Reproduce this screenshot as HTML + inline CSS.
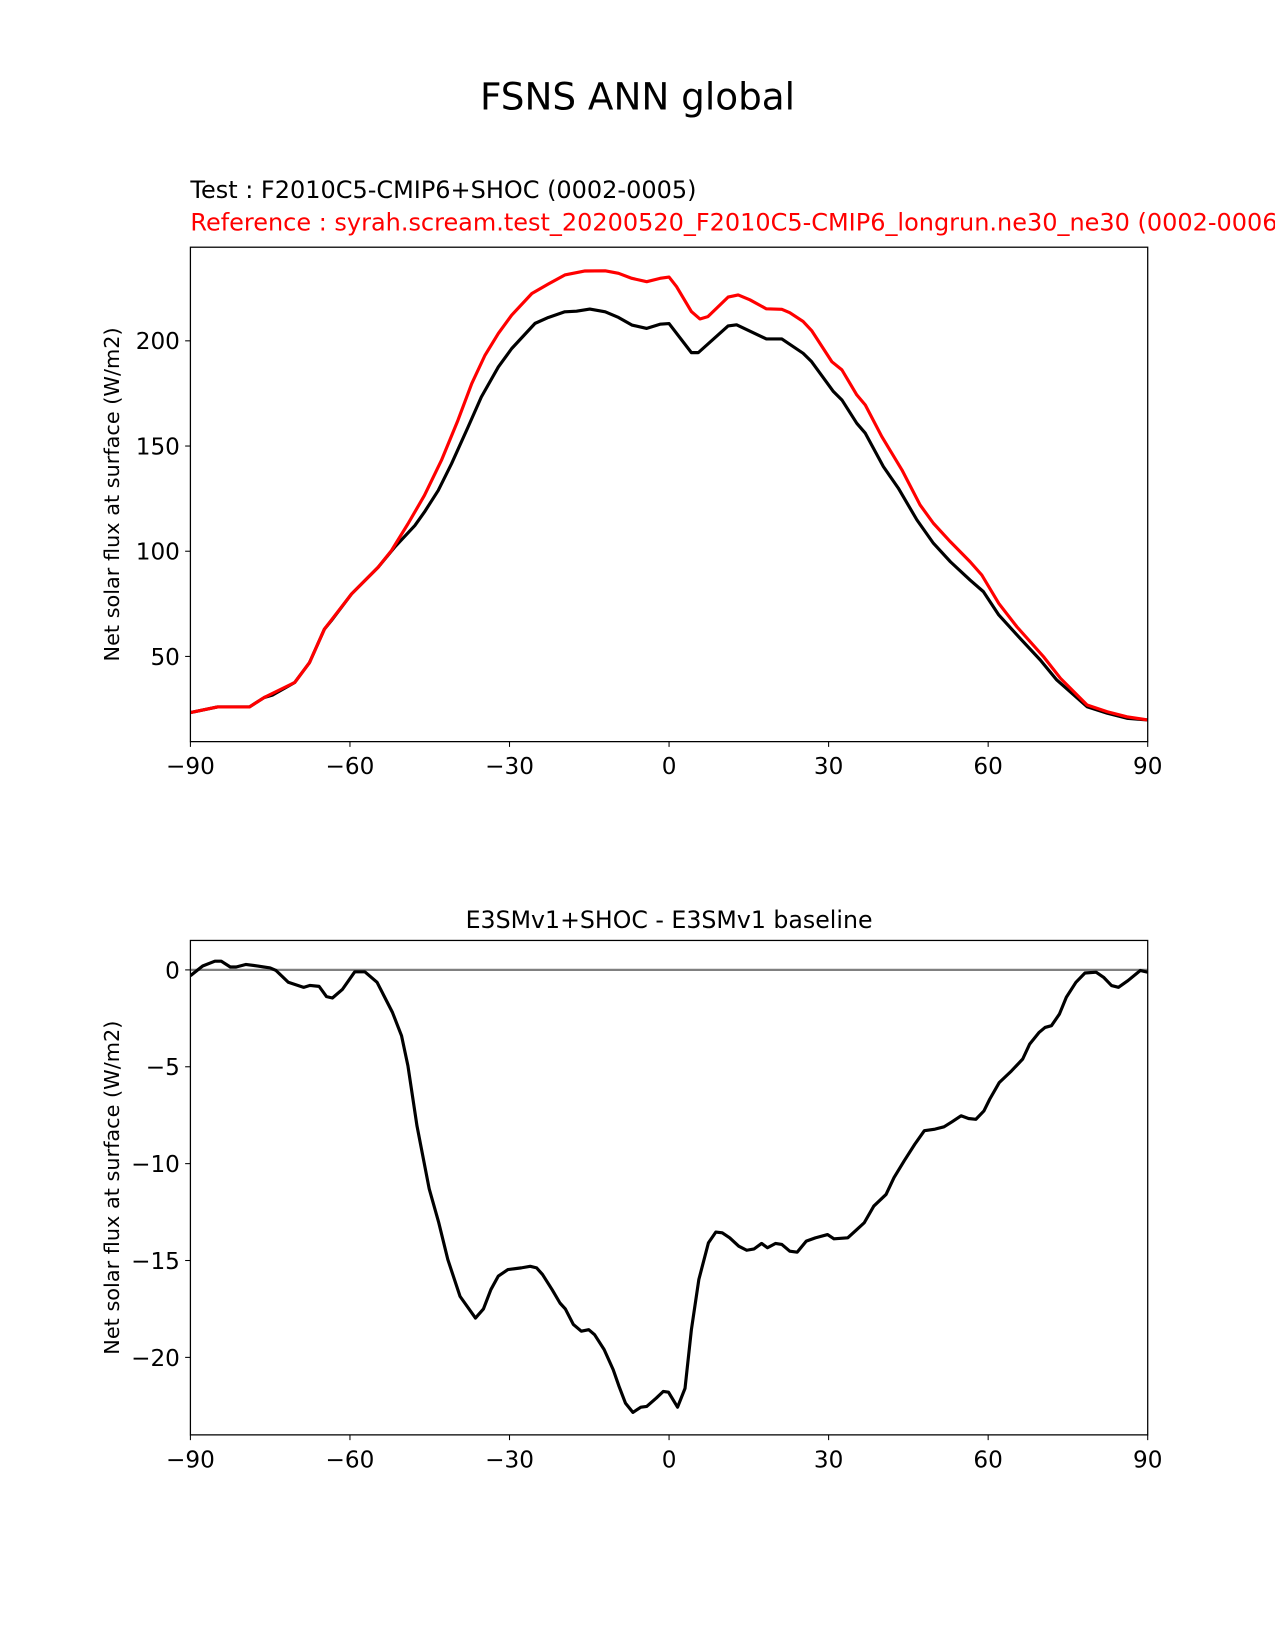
<!DOCTYPE html>
<html><head><meta charset="utf-8"><style>
html,body{margin:0;padding:0;background:#fff;}
svg{display:block;font-family:"DejaVu Sans","Liberation Sans",sans-serif;}
</style></head><body>
<svg id="fig" width="1275" height="1650" viewBox="0 0 1212 1568.5" preserveAspectRatio="none" xmlns="http://www.w3.org/2000/svg">
<rect width="1212" height="1568.5" fill="#fff"/>
<text x="606" y="104" font-size="35.5" text-anchor="middle">FSNS ANN global</text>
<text x="181" y="188" font-size="22.8">Test : F2010C5-CMIP6+SHOC (0002-0005)</text>
<text x="181" y="219" font-size="22.8" fill="#ff0000">Reference : syrah.scream.test_20200520_F2010C5-CMIP6_longrun.ne30_ne30 (0002-0006)</text>
<text x="636" y="882" font-size="22.5" text-anchor="middle">E3SMv1+SHOC - E3SMv1 baseline</text>
<g id="top"></g>
<g id="bot"></g>
</svg>
<script>
const testLat=[-90,-84.9,-78.9,-76.1,-74.5,-70.4,-67.6,-64.8,-63.5,-59.7,-54.7,-51.6,-47.8,-46,-43.4,-40.9,-37.8,-35.3,-32.1,-29.6,-25.2,-22.7,-19.6,-17.4,-14.9,-12,-9.5,-7,-4.2,-1.7,0,4.2,5.5,11.1,12.7,18.3,21.2,25.2,26.8,30.9,32.5,35.3,36.9,40.3,43.1,46.6,49.7,52.9,56.6,59.1,62,66,69.8,72.9,78.6,82.4,86.1,90];
const testVals=[23.3,26,26,30.5,31.7,37.6,47.1,63,67,79.7,92.4,101.9,112.2,118.6,128.9,141.6,159,173.3,187.6,196.3,208.3,211.1,213.8,214.1,215.1,213.8,211.1,207.5,205.9,207.9,208.2,194.4,194.4,207.1,207.6,200.9,200.9,194.1,190.1,175.9,171.9,160.8,156.1,140.2,130,114.9,103.8,95,86.3,80.8,69.7,58.6,48.3,38.8,26.1,23,20.6,19.8];
const refLat=[-90,-84.9,-78.9,-76.1,-70.4,-67.6,-64.8,-59.7,-54.7,-52.2,-49.1,-46,-42.8,-39.7,-37.1,-34.6,-32.1,-29.6,-25.8,-22.7,-19.6,-15.8,-12,-9.5,-7,-4.2,-1.7,0,1.4,4.2,5.8,7.3,11.1,13,15.2,18.3,21.2,22.7,25.2,26.8,30.6,32.5,35.3,36.9,40,43.8,47.2,49.7,52.9,56.6,58.8,62,65.4,70.4,73.6,78.6,82.4,86.1,90];
const refVals=[23.3,26,26,30.5,37.6,47.1,63,79.7,92.4,100.3,113,126.5,143.2,162.2,179.7,193.2,203.5,212.2,222.5,227,231.3,233.2,233.3,232.1,229.7,228.1,229.7,230.3,225.8,213.9,210.4,211.5,220.8,221.8,219.5,215.2,215,213.4,209.2,204.9,190.1,186.2,174.3,169.5,154.5,138.6,122,113.3,104.5,95,88.7,75.2,64.1,49.9,39.6,26.9,23.7,21.3,19.8];
const diffLat=[-90,-87.7,-85.4,-84.2,-82.5,-81.4,-79.6,-77.3,-75,-73.9,-71.6,-68.7,-67.5,-65.8,-64.4,-63.3,-61.4,-59.1,-57.2,-54.9,-52,-50.3,-49.1,-47.4,-45.1,-43.3,-41.6,-39.3,-36.4,-34.9,-33.5,-32.1,-30.3,-27.8,-26.1,-24.9,-23.8,-22,-20.5,-19.5,-18,-16.5,-15.1,-14,-12.2,-10.5,-9.4,-8.2,-6.8,-5.3,-4.2,-2.4,-1.1,-0.1,1.6,3,4.2,5.6,7.4,8.8,10,11.4,13.1,14.6,16,17.4,18.5,20,21.2,22.7,24.1,25.8,27.5,29.8,31,33.6,35,36.7,38.5,40.8,42.3,44.2,46.2,48,50,51.7,53.2,54.9,56.3,57.7,59.2,60.3,62.1,64.4,66.5,67.8,69.6,70.7,71.9,73.4,74.7,76.5,78.2,80.3,81.7,83.2,84.5,86.3,88.6,90];
const diffVals=[-0.3,0.2,0.45,0.45,0.15,0.15,0.28,0.2,0.1,-0.03,-0.64,-0.9,-0.8,-0.85,-1.38,-1.45,-1.0,-0.1,-0.1,-0.64,-2.2,-3.4,-4.95,-8.05,-11.3,-13.05,-14.95,-16.85,-17.97,-17.5,-16.5,-15.8,-15.47,-15.38,-15.3,-15.38,-15.72,-16.5,-17.2,-17.5,-18.3,-18.65,-18.57,-18.83,-19.6,-20.64,-21.5,-22.36,-22.84,-22.57,-22.53,-22.1,-21.76,-21.8,-22.57,-21.6,-18.57,-15.98,-14.09,-13.53,-13.57,-13.83,-14.26,-14.47,-14.4,-14.12,-14.34,-14.12,-14.17,-14.52,-14.57,-14,-13.83,-13.66,-13.88,-13.83,-13.48,-13.05,-12.19,-11.59,-10.72,-9.86,-9,-8.3,-8.22,-8.1,-7.84,-7.53,-7.67,-7.71,-7.28,-6.67,-5.81,-5.21,-4.6,-3.83,-3.22,-2.97,-2.88,-2.28,-1.41,-0.64,-0.16,-0.12,-0.38,-0.81,-0.9,-0.55,-0.03,-0.12];
const xTicks=[-90,-60,-30,0,30,60,90];
const topTicks=[50,100,150,200];
const botTicks=[0,-5,-10,-15,-20];
const NS="http://www.w3.org/2000/svg";
const X0=181,X1=1091;
const xs=v=>X0+(v+90)*(X1-X0)/180;
function mk(p,t,a){const e=document.createElementNS(NS,t);for(const k in a)e.setAttribute(k,a[k]);p.appendChild(e);return e;}
function lbl(v){return v<0?'\u2212'+(-v):String(v);}
function panel(g,top,bot,ymin,ymax,yt,nm){
  const ys=v=>bot-(v-ymin)*(bot-top)/(ymax-ymin);
  const cid='clip'+nm;
  const d=mk(g,'defs',{});const cp=mk(d,'clipPath',{id:cid});mk(cp,'rect',{x:X0,y:top,width:X1-X0,height:bot-top});
  xTicks.forEach(v=>{
    const l=mk(g,'line',{x1:xs(v),x2:xs(v),y1:bot,y2:bot+5,stroke:'#000','stroke-width':1});
    
    
    const t=mk(g,'text',{x:xs(v),y:bot+31,'font-size':22,'text-anchor':'middle'});t.textContent=lbl(v);
    
    
  });
  yt.forEach(v=>{
    const l=mk(g,'line',{x1:X0-5,x2:X0,y1:ys(v),y2:ys(v),stroke:'#000','stroke-width':1});
    
    
    const t=mk(g,'text',{x:X0-10,y:ys(v)+8,'font-size':22,'text-anchor':'end'});t.textContent=lbl(v);
    
    
  });
  const yl=mk(g,'text',{x:0,y:0,'font-size':19.8,'text-anchor':'middle',transform:`translate(113,${(top+bot)/2}) rotate(-90)`});
  yl.textContent='Net solar flux at surface (W/m2)';
  
  
  return {ys,cid,done:()=>{const r=mk(g,'rect',{x:X0,y:top,width:X1-X0,height:bot-top,fill:'none',stroke:'#000','stroke-width':1.2});
    
    }};
}
function line(g,p,lat,vals,col,nm){
  const pts=lat.map((v,i)=>xs(v).toFixed(2)+','+p.ys(vals[i]).toFixed(2)).join(' ');
  const e=mk(g,'polyline',{points:pts,fill:'none',stroke:col,'stroke-width':3,'stroke-linejoin':'round','clip-path':`url(#${p.cid})`});
  
  
}
const gt=document.getElementById('top');
const pt=panel(gt,235,705,9.5,244.5,topTicks,'t');
line(gt,pt,testLat,testVals,'#000','test-line');
line(gt,pt,refLat,refVals,'#ff0000','reference-line');
pt.done();
const gb=document.getElementById('bot');
const pb=panel(gb,894,1364,-24.0,1.52,botTicks,'b');
const z=mk(gb,'line',{x1:X0,x2:X1,y1:pb.ys(0),y2:pb.ys(0),stroke:'#808080','stroke-width':2.2});


line(gb,pb,diffLat,diffVals,'#000','difference-line');
pb.done();
</script>
</body></html>
